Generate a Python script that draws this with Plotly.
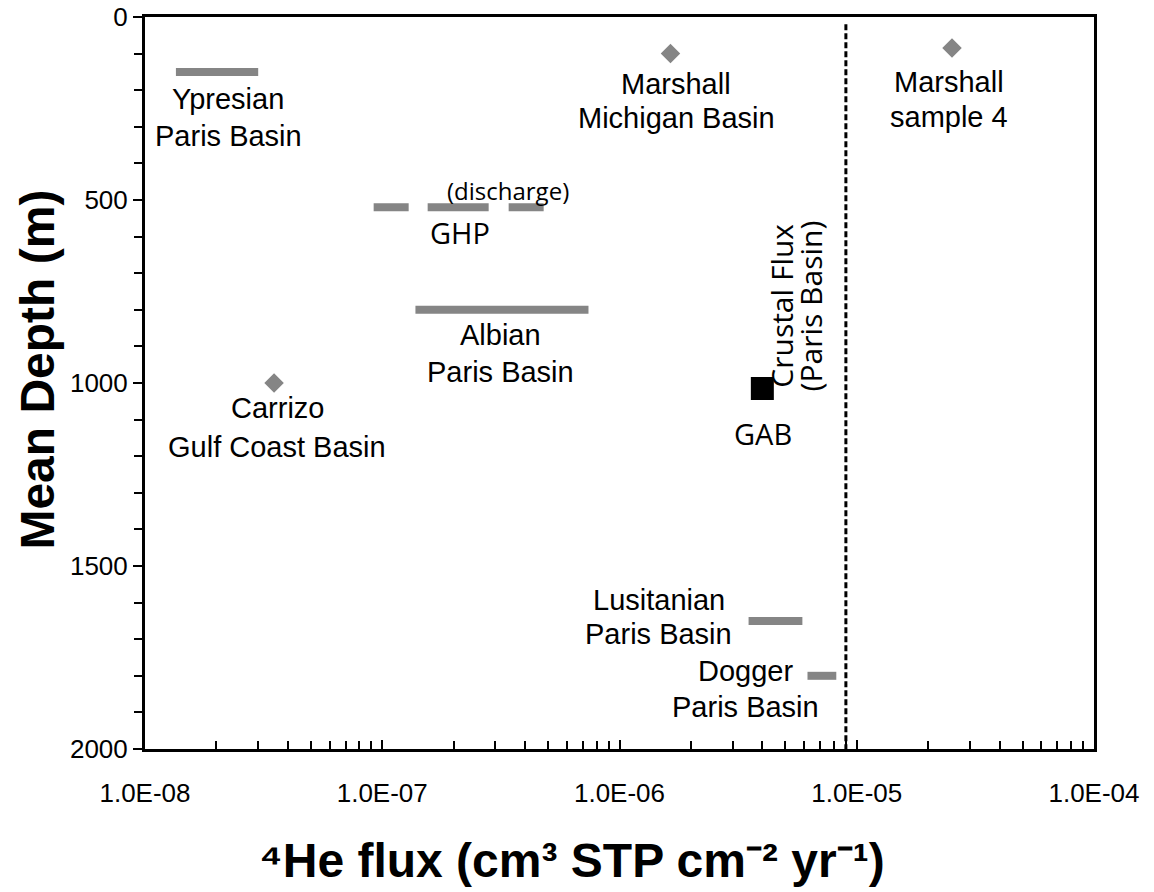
import numpy as np
import plotly.graph_objects as go

# Flux ranges drawn as horizontal bars (cm3 STP cm-2 yr-1) at mean depth (m)
range_names = ["Ypresian", "Albian", "Lusitanian", "Dogger"]
range_lo = [1.35e-8, 1.38e-7, 3.5e-6, 6.2e-6]
range_hi = [3.0e-8, 7.4e-7, 5.9e-6, 8.2e-6]
range_depth = [150, 800, 1650, 1800]

# Great Hungarian Plain (discharge) range
ghp_flux = [9.2e-8, 4.8e-7]
ghp_depth = [520, 520]

# Single-value estimates
point_names = ["Marshall Michigan Basin", "Marshall sample 4", "Carrizo Gulf Coast Basin"]
point_flux = [1.64e-6, 2.52e-5, 3.5e-8]
point_depth = [100, 85, 1000]

# Great Artesian Basin
gab_flux = [4.0e-6]
gab_depth = [1015]

# Crustal flux (Paris Basin)
crustal_flux = [9.0e-6, 9.0e-6]
crustal_depth = [20, 2000]

# Axis ticks
decades = [1e-8, 1e-7, 1e-6, 1e-5, 1e-4]
x_tick_labels = ["1.0E-08", "1.0E-07", "1.0E-06", "1.0E-05", "1.0E-04"]
y_tick_vals = [0, 500, 1000, 1500, 2000]
y_tick_labels = ["0", "500", "1000", "1500", "2000"]

GRAY = "#858585"
ARIAL = "Liberation Sans, Arial, Helvetica, sans-serif"
MYRIAD = "Open Sans, Noto Sans, sans-serif"

fig = go.Figure()

for name, lo, hi, d in zip(range_names, range_lo, range_hi, range_depth):
    fig.add_trace(go.Scatter(x=[lo, hi], y=[d, d], mode="lines", name=name,
                             line=dict(color=GRAY, width=8), showlegend=False,
                             hoverinfo="skip"))

fig.add_trace(go.Scatter(x=ghp_flux, y=ghp_depth, mode="lines", name="GHP",
                         line=dict(color=GRAY, width=8, dash="35px,19px,61px,20px"),
                         showlegend=False, hoverinfo="skip"))

fig.add_trace(go.Scatter(x=point_flux, y=point_depth, mode="markers", text=point_names,
                         marker=dict(symbol="diamond", size=15, color=GRAY,
                                     line=dict(width=0)),
                         showlegend=False))

fig.add_trace(go.Scatter(x=gab_flux, y=gab_depth, mode="markers", name="GAB",
                         marker=dict(symbol="square", size=23, color="black",
                                     line=dict(width=0)),
                         showlegend=False))

fig.add_trace(go.Scatter(x=crustal_flux, y=crustal_depth, mode="lines",
                         name="Crustal Flux",
                         line=dict(color="black", width=3, dash="6px,3px"),
                         showlegend=False, hoverinfo="skip"))

# minor x ticks: mantissas 2..9 within each decade
x_minor_vals = [m * dec for dec in decades[:-1] for m in range(2, 10)]

# (text, log10 x, depth, font, size, angle) — one entry per text line
labels = [
    ("Ypresian", -7.650, 224, ARIAL, 29, 0),
    ("Paris Basin", -7.650, 326, ARIAL, 29, 0),
    ("Marshall", -5.760, 183, ARIAL, 29, 0),
    ("Michigan Basin", -5.760, 277, ARIAL, 29, 0),
    ("Marshall", -4.612, 178, ARIAL, 29, 0),
    ("sample 4", -4.612, 272, ARIAL, 29, 0),
    ("Carrizo", -7.443, 1068, ARIAL, 29, 0),
    ("Gulf Coast Basin", -7.443, 1176, ARIAL, 29, 0),
    ("Albian", -6.502, 869, ARIAL, 29, 0),
    ("Paris Basin", -6.502, 970, ARIAL, 29, 0),
    ("Lusitanian", -5.835, 1593, ARIAL, 29, 0),
    ("Paris Basin", -5.835, 1686, ARIAL, 29, 0),
    ("Dogger", -5.468, 1787, ARIAL, 29, 0),
    ("Paris Basin", -5.468, 1885, ARIAL, 29, 0),
    ("GHP", -6.671, 590, MYRIAD, 29, 0),
    ("(discharge)", -6.468, 473, MYRIAD, 24, 0),
    ("GAB", -5.397, 1139, MYRIAD, 29, 0),
    ("Crustal Flux", -5.317, 790, MYRIAD, 30, -90),
    ("(Paris Basin)", -5.196, 790, MYRIAD, 30, -90),
]
annotations = []
for text, lx, ly, fam, size, ang in labels:
    annotations.append(dict(x=lx, y=ly, xref="x", yref="y", text=text,
                            showarrow=False, textangle=ang,
                            xanchor="center", yanchor="middle", align="center",
                            font=dict(family=fam, size=size, color="black")))

annotations.append(dict(x=0.45, y=-0.152, xref="paper", yref="paper",
                        text="<b>⁴He flux (cm³ STP cm⁻² yr⁻¹)</b>",
                        showarrow=False, xanchor="center", yanchor="middle",
                        font=dict(family=ARIAL, size=48, color="black")))
annotations.append(dict(x=-0.113, y=0.518, xref="paper", yref="paper",
                        text="<b>Mean Depth (m)</b>", textangle=-90,
                        showarrow=False, xanchor="center", yanchor="middle",
                        font=dict(family=ARIAL, size=48, color="black")))

fig.update_layout(
    width=1154, height=892,
    margin=dict(l=145, r=60, t=17, b=143),
    paper_bgcolor="white", plot_bgcolor="white",
    annotations=annotations,
    xaxis=dict(type="log", range=[-8, -4], tickvals=decades, ticktext=x_tick_labels,
               ticks="inside", ticklen=9, tickwidth=2, tickcolor="black",
               minor=dict(tickmode="array", tickvals=x_minor_vals, ticks="inside",
                          ticklen=8, tickwidth=2, tickcolor="black", showgrid=False),
               ticklabelstandoff=19, automargin=False,
               showline=True, linewidth=3, linecolor="black", mirror=True,
               showgrid=False, zeroline=False,
               tickfont=dict(family=ARIAL, size=26, color="black")),
    yaxis=dict(range=[2000, 0], tickvals=y_tick_vals, ticktext=y_tick_labels,
               ticks="outside", ticklen=9, tickwidth=2, tickcolor="black",
               minor=dict(dtick=100, ticks="outside", ticklen=8, tickwidth=2,
                          tickcolor="black", showgrid=False),
               automargin=False,
               showline=True, linewidth=3, linecolor="black", mirror=True,
               showgrid=False, zeroline=False,
               tickfont=dict(family=ARIAL, size=26, color="black")),
)

fig.write_html("out.html")
